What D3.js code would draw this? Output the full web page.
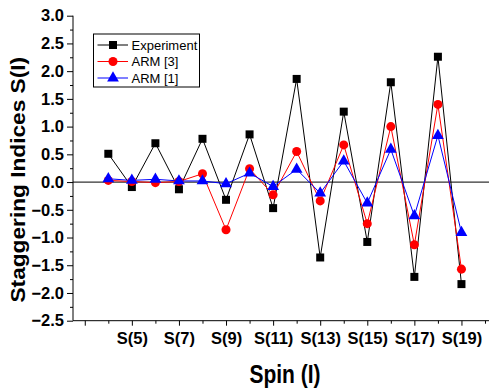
<!DOCTYPE html>
<html>
<head>
<meta charset="utf-8">
<script src="https://cdn.jsdelivr.net/npm/d3@7"></script>
<style>
  body { margin: 0; background: #fff; }
  svg { display: block; font-family: "Liberation Sans", Arial, sans-serif; }
</style>
</head>
<body>
<svg id="chart" width="494" height="392"></svg>
<script>
// spin positions (x index) and staggering values
var spins = [4, 5, 6, 7, 8, 9, 10, 11, 12, 13, 14, 15, 16, 17, 18, 19];
var experiment = [0.51, -0.09, 0.70, -0.13, 0.78, -0.32, 0.86, -0.47, 1.86, -1.36, 1.27, -1.08, 1.80, -1.71, 2.26, -1.84];
var arm3 = [0.03, 0.01, -0.01, 0.01, 0.15, -0.86, 0.24, -0.23, 0.55, -0.34, 0.67, -0.75, 1.00, -1.13, 1.40, -1.57];
var arm1 = [0.06, 0.03, 0.05, 0.02, 0.02, -0.03, 0.16, -0.08, 0.23, -0.20, 0.38, -0.38, 0.59, -0.61, 0.84, -0.91];
var xTickLabels = ["S(5)", "S(7)", "S(9)", "S(11)", "S(13)", "S(15)", "S(17)", "S(19)"];
var yTicks = [-2.5, -2.0, -1.5, -1.0, -0.5, 0.0, 0.5, 1.0, 1.5, 2.0, 2.5, 3.0];

var series = [
    {name: "Experiment", values: experiment, color: "#000", symbol: d3.symbolSquare, size: 64},
    {name: "ARM [3]", values: arm3, color: "#ff0000", symbol: d3.symbolCircle, size: 64},
    {name: "ARM [1]", values: arm1, color: "#0000ff", symbol: d3.symbolTriangle, size: 60}
];

var svg = d3.select("#chart");
var x = d3.scaleLinear().domain([2.5, 20.17]).range([73, 489]);
var y = d3.scaleLinear().domain([-2.5, 3.0]).range([320.7, 15.7]);

// zero line
svg.append("line")
    .attr("x1", x(2.5)).attr("x2", x(20.17))
    .attr("y1", y(0)).attr("y2", y(0))
    .attr("stroke", "#333").attr("stroke-width", 1.2);

// y axis: major + minor ticks
var yMinor = d3.range(-2.25, 3.0, 0.5);
svg.append("g").attr("transform", "translate(73,0)")
    .call(d3.axisLeft(y).tickValues(yMinor).tickSize(3).tickFormat(""))
    .call(g => g.select(".domain").remove());
var yAxis = svg.append("g").attr("transform", "translate(73,0)")
    .call(d3.axisLeft(y).tickValues(yTicks).tickSize(6).tickPadding(3).tickFormat(d3.format(".1f")));
yAxis.select(".domain").attr("d", "M0," + y(3.0) + "V" + y(-2.5));
yAxis.selectAll("text").attr("font-size", 16.5).attr("font-weight", "bold").attr("fill", "#000")
    .attr("font-family", "'Liberation Sans', Arial, sans-serif");

// x axis
var xMajor = d3.range(3, 20, 2);
var xMinor = d3.range(4, 21, 2);
svg.append("g").attr("transform", "translate(0," + y(-2.5) + ")")
    .call(d3.axisBottom(x).tickValues(xMinor).tickSize(3).tickFormat(""))
    .call(g => g.select(".domain").remove());
var xAxis = svg.append("g").attr("transform", "translate(0," + y(-2.5) + ")")
    .call(d3.axisBottom(x).tickValues(xMajor).tickSize(5).tickPadding(7)
        .tickFormat(d => d >= 5 ? xTickLabels[(d - 5) / 2] : ""));
xAxis.select(".domain").attr("d", "M" + x(2.5) + ",0H" + x(20.17));
xAxis.selectAll("text").attr("font-size", 16.5).attr("font-weight", "bold").attr("fill", "#000")
    .attr("font-family", "'Liberation Sans', Arial, sans-serif");

// series lines + markers
var line = d3.line().x((d, i) => x(spins[i])).y(d => y(d));
series.forEach(s => {
    svg.append("path").datum(s.values)
        .attr("d", line).attr("fill", "none")
        .attr("stroke", s.color).attr("stroke-width", 1);
});
series.forEach(s => {
    svg.append("g").selectAll("path").data(s.values).join("path")
        .attr("transform", (d, i) => "translate(" + x(spins[i]) + "," + y(d) + ")")
        .attr("d", d3.symbol().type(s.symbol).size(s.size))
        .attr("fill", s.color);
});

// legend
var legend = svg.append("g");
legend.append("rect")
    .attr("x", 93.5).attr("y", 34).attr("width", 106).attr("height", 53)
    .attr("fill", "#fff").attr("stroke", "#000").attr("stroke-width", 1);
series.forEach((s, i) => {
    var ly = 45 + i * 16.5;
    legend.append("line").attr("x1", 97.5).attr("x2", 128).attr("y1", ly).attr("y2", ly)
        .attr("stroke", s.color).attr("stroke-width", 1);
    legend.append("path").attr("transform", "translate(113," + ly + ")")
        .attr("d", d3.symbol().type(s.symbol).size(s.size)).attr("fill", s.color);
    legend.append("text").attr("x", 131.5).attr("y", ly).attr("dy", "0.36em")
        .attr("font-size", 13).text(s.name);
});

// axis titles (reference glyphs are slightly stretched vertically)
svg.append("text")
    .attr("transform", "translate(25,179.7) rotate(-90) scale(1.08,1)")
    .attr("text-anchor", "middle")
    .attr("font-size", 21).attr("font-weight", "bold")
    .text("Staggering Indices S(I)");
svg.append("text")
    .attr("transform", "translate(285,383.3) scale(1,1.2)")
    .attr("text-anchor", "middle")
    .attr("font-size", 21).attr("font-weight", "bold")
    .text("Spin (I)");
</script>
</body>
</html>
